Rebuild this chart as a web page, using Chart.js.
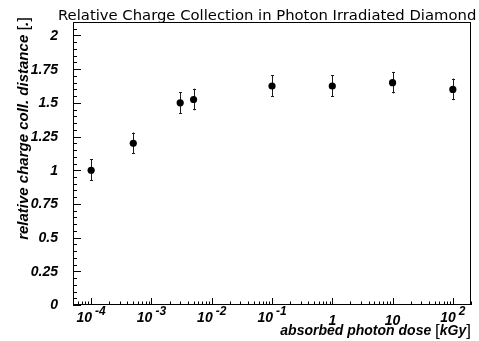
<!DOCTYPE html>
<html><head><meta charset="utf-8">
<script src="https://cdn.jsdelivr.net/npm/chart.js@4.4.1/dist/chart.umd.min.js"></script>
<style>html,body{margin:0;padding:0;background:#fff}canvas{display:block}</style>
</head><body>
<canvas id="c" width="479" height="341"></canvas>
<script>
// ---- data ----
const chartTitle = 'Relative Charge Collection in Photon Irradiated Diamond';
const xTitle = 'absorbed photon dose';
const xUnit = 'kGy';
const yTitle = 'relative charge coll. distance';
const yUnit = '.';

const doses = [1e-4, 5e-4, 3e-3, 5e-3, 0.1, 1, 10, 100];
const ccd = [1.0, 1.2, 1.5, 1.525, 1.625, 1.625, 1.65, 1.6];
const ccdErr = [0.08, 0.08, 0.08, 0.08, 0.08, 0.08, 0.08, 0.08];

const yTickValues = [0, 0.25, 0.5, 0.75, 1, 1.25, 1.5, 1.75, 2];
const yTickLabels = ['0', '0.25', '0.5', '0.75', '1', '1.25', '1.5', '1.75', '2'];
const xTickValues = [1e-4, 1e-3, 1e-2, 1e-1, 1, 10, 100];
const xTickBases = ['10', '10', '10', '10', '1', '10', '10'];
const xTickExps = ['-4', '-3', '-2', '-1', '', '', '2'];

const LBL = '"Liberation Sans", Arial, Helvetica, sans-serif';

const decorPlugin = {
  id: 'decor',
  beforeDatasetsDraw(chart) {
    const ctx = chart.ctx, xs = chart.scales.x, ys = chart.scales.y;
    ctx.save();
    ctx.strokeStyle = '#1a1a1a';
    ctx.lineWidth = 1;
    for (let i = 0; i < doses.length; i++) {
      const px = Math.round(xs.getPixelForValue(doses[i])) + 0.5;
      const y1 = ys.getPixelForValue(ccd[i] + ccdErr[i]);
      const y2 = ys.getPixelForValue(ccd[i] - ccdErr[i]);
      ctx.beginPath();
      ctx.moveTo(px, y1); ctx.lineTo(px, y2);
      ctx.moveTo(px - 1.5, Math.round(y1) + 0.5); ctx.lineTo(px + 1.5, Math.round(y1) + 0.5);
      ctx.moveTo(px - 1.5, Math.round(y2) - 0.5); ctx.lineTo(px + 1.5, Math.round(y2) - 0.5);
      ctx.stroke();
    }
    ctx.restore();
  },
  afterDraw(chart) {
    const ctx = chart.ctx, xs = chart.scales.x, ys = chart.scales.y;
    const a = chart.chartArea;
    ctx.save();
    ctx.strokeStyle = '#000';
    ctx.lineWidth = 1;
    // frame
    ctx.strokeRect(Math.round(a.left) + 0.5, Math.round(a.top) + 0.5,
      Math.round(a.right - a.left) - 1, Math.round(a.bottom - a.top) - 1);
    // y ticks
    ctx.beginPath();
    for (let k = 0; k <= 42; k++) {
      const v = k * 0.05;
      if (v > ys.max + 1e-9) break;
      const py = Math.round(ys.getPixelForValue(v)) + 0.5;
      const len = (k % 5 === 0) ? 8 : 4;
      ctx.moveTo(a.left, py); ctx.lineTo(a.left + len, py);
    }
    // x ticks
    for (let d = -5; d <= 2; d++) {
      for (let m = 1; m <= 9; m++) {
        const v = m * Math.pow(10, d);
        if (v < xs.min * 0.999 || v > xs.max * 1.001) continue;
        const px = Math.round(xs.getPixelForValue(v)) + 0.5;
        const len = m === 1 ? 7 : 3.5;
        ctx.moveTo(px, a.bottom); ctx.lineTo(px, a.bottom - len);
      }
    }
    ctx.stroke();

    ctx.fillStyle = '#000';
    // y tick labels
    ctx.font = 'italic bold 14px ' + LBL;
    ctx.textAlign = 'right';
    ctx.textBaseline = 'middle';
    yTickValues.forEach((v, i) => {
      ctx.fillText(yTickLabels[i], 58, ys.getPixelForValue(v) + 0.5);
    });
    // x tick labels
    ctx.textBaseline = 'alphabetic';
    ctx.textAlign = 'left';
    const baseFont = 'italic bold 14px ' + LBL;
    const expFont = 'italic bold 12px ' + LBL;
    xTickValues.forEach((v, i) => {
      const px = xs.getPixelForValue(v);
      ctx.font = baseFont;
      const bw = ctx.measureText(xTickBases[i]).width;
      ctx.font = expFont;
      const ew = xTickExps[i] ? ctx.measureText(xTickExps[i]).width + 3 : 0;
      const x0 = px - (bw + ew) / 2;
      ctx.font = baseFont;
      const by = xTickExps[i] ? 322 : 325;
      ctx.fillText(xTickBases[i], x0, by);
      if (xTickExps[i]) {
        ctx.font = expFont;
        ctx.fillText(xTickExps[i], x0 + bw + 3, 315);
      }
    });

    // x axis title, right aligned at plot right
    const tFont = 'italic bold 14px ' + LBL;
    const brFont = '17px ' + LBL;
    const xEnd = a.right;
    const yb = 335;
    ctx.textAlign = 'left';
    ctx.font = brFont;
    const brW1 = ctx.measureText('[').width, brW2 = ctx.measureText(']').width;
    ctx.font = tFont;
    const uW = ctx.measureText(xUnit).width;
    const tW = ctx.measureText(xTitle + ' ').width;
    let x = xEnd - (tW + brW1 + uW + brW2);
    ctx.fillText(xTitle + ' ', x, yb); x += tW;
    ctx.font = brFont; ctx.fillText('[', x, yb + 1); x += brW1;
    ctx.font = tFont; ctx.fillText(xUnit, x, yb); x += uW;
    ctx.font = brFont; ctx.fillText(']', x, yb + 1);

    // y axis title, rotated, right aligned at top
    const ytFont = 'italic bold 15px ' + LBL;
    ctx.save();
    ctx.translate(28, 17);
    ctx.rotate(-Math.PI / 2);
    ctx.textAlign = 'left';
    ctx.font = brFont;
    const yb1 = ctx.measureText('[').width, yb2 = ctx.measureText(']').width;
    ctx.font = ytFont;
    const yuW = ctx.measureText(yUnit).width;
    const ytW = ctx.measureText(yTitle + ' ').width;
    let xx = -(ytW + yb1 + yuW + yb2);
    ctx.fillText(yTitle + ' ', xx, 0); xx += ytW;
    ctx.font = brFont; ctx.fillText('[', xx, 1); xx += yb1;
    ctx.font = ytFont; ctx.fillText(yUnit, xx, 0); xx += yuW;
    ctx.font = brFont; ctx.fillText(']', xx, 1);
    ctx.restore();

    // chart title
    ctx.font = '14.8px "DejaVu Sans", sans-serif';
    ctx.textAlign = 'left';
    ctx.fillText(chartTitle, 58, 20);
    ctx.restore();
  }
};

new Chart(document.getElementById('c'), {
  type: 'scatter',
  data: {
    datasets: [{
      data: doses.map((d, i) => ({ x: d, y: ccd[i] })),
      pointRadius: 3.6,
      pointBackgroundColor: '#000',
      pointBorderColor: '#000',
      pointBorderWidth: 0
    }]
  },
  options: {
    responsive: false,
    animation: false,
    devicePixelRatio: 1,
    layout: { padding: { left: 73, top: 22, right: 8, bottom: 36 } },
    plugins: { legend: { display: false }, tooltip: { enabled: false }, title: { display: false } },
    scales: {
      x: { type: 'logarithmic', min: 5e-5, max: 200, display: false },
      y: { type: 'linear', min: 0, max: 2.1, display: false }
    }
  },
  plugins: [decorPlugin]
});
</script>
</body></html>
